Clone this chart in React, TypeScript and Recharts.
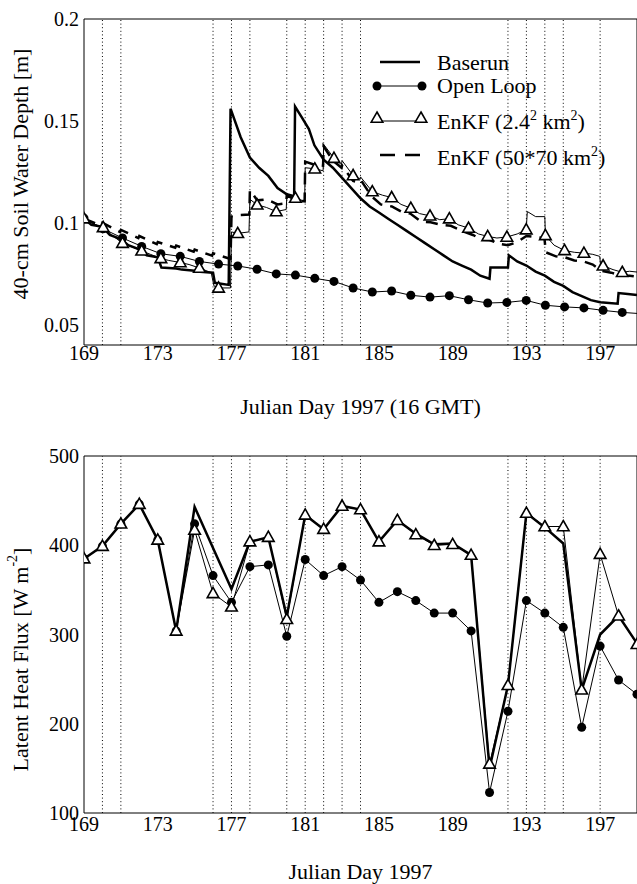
import React from "react";
import { LineChart, Line, XAxis, YAxis, ReferenceLine } from "recharts";

// days with observations (dotted verticals)
const obsDays = [170, 171, 176, 177, 178, 180, 181, 182, 183, 184, 192, 193, 194, 195, 197];
const dayTicks = [169, 173, 177, 181, 185, 189, 193, 197];

const swdMajor = [0.05, 0.1, 0.15, 0.2];
const swdMinor = [0.06, 0.07, 0.08, 0.09, 0.11, 0.12, 0.13, 0.14, 0.16, 0.17, 0.18, 0.19];
const lhMajor = [100, 200, 300, 400, 500];
const lhMinor = [120, 140, 160, 180, 220, 240, 260, 280, 320, 340, 360, 380, 420, 440, 460, 480];

// symbol positions on the soil-water curves
const markDays = [
  169.0, 170.04, 171.09, 172.13, 173.17, 174.22, 175.26, 176.3, 177.34, 178.39,
  179.43, 180.47, 181.52, 182.56, 183.6, 184.64, 185.69, 186.73, 187.77, 188.82,
  189.86, 190.9, 191.94, 192.99, 194.03, 195.07, 196.12, 197.16, 198.2,
];

// 40-cm soil water depth [m]
const swdOpenLoop = [
  0.1023, 0.097, 0.0925, 0.0884, 0.0848, 0.0835, 0.081, 0.0797, 0.0788, 0.0772,
  0.0749, 0.0743, 0.0727, 0.0712, 0.068, 0.066, 0.0665, 0.0644, 0.0635, 0.0642,
  0.0622, 0.0606, 0.0609, 0.0619, 0.0595, 0.0587, 0.0582, 0.057, 0.056,
];

const swdBaserun: [number, number][] = [
  [169.0, 0.102], [169.4, 0.099], [170.0, 0.098], [170.4, 0.094], [171.0, 0.092],
  [171.4, 0.089], [172.0, 0.087], [172.4, 0.084], [173.0, 0.083], [173.2, 0.078],
  [174.0, 0.0775], [174.3, 0.077], [175.0, 0.0765], [175.3, 0.076], [176.0, 0.0755],
  [176.1, 0.0705], [176.85, 0.0695], [176.95, 0.156], [177.5, 0.142], [178.0, 0.132],
  [178.5, 0.127], [179.0, 0.123], [179.5, 0.117], [180.0, 0.114], [180.4, 0.113],
  [180.45, 0.157], [180.8, 0.152], [181.2, 0.146], [181.5, 0.138], [182.0, 0.131],
  [182.5, 0.127], [183.0, 0.122], [183.5, 0.117], [184.0, 0.112], [184.5, 0.108],
  [185.0, 0.105], [185.5, 0.102], [186.0, 0.099], [186.5, 0.096], [187.0, 0.093],
  [187.5, 0.09], [188.0, 0.087], [188.5, 0.084], [189.0, 0.081], [189.5, 0.079],
  [190.0, 0.077], [190.5, 0.074], [191.0, 0.0725], [191.05, 0.078], [192.0, 0.078],
  [192.05, 0.084], [192.5, 0.081], [193.0, 0.079], [193.5, 0.076], [194.0, 0.074],
  [194.5, 0.071], [195.0, 0.069], [195.5, 0.066], [196.0, 0.064], [196.5, 0.062],
  [197.0, 0.061], [197.95, 0.0603], [198.0, 0.0655], [198.5, 0.065], [199.0, 0.0645],
];

const swdEnkfFine: [number, number][] = [
  [169.0, 0.102], [169.5, 0.0995], [170.04, 0.0977], [170.5, 0.094], [171.09, 0.09],
  [171.5, 0.0885], [172.13, 0.0862], [172.6, 0.0845], [173.17, 0.0825], [173.6, 0.0815],
  [174.22, 0.0805], [174.7, 0.0795], [175.26, 0.0778], [175.9, 0.0755], [176.05, 0.069],
  [176.3, 0.068], [176.95, 0.068], [177.0, 0.0955], [177.34, 0.0948], [177.95, 0.0955],
  [178.0, 0.1115], [178.39, 0.1088], [178.9, 0.1075], [179.43, 0.1055], [179.97, 0.1065],
  [180.0, 0.1125], [180.47, 0.1121], [180.97, 0.1105], [181.0, 0.127], [181.52, 0.1265],
  [181.97, 0.1255], [182.0, 0.1385], [182.56, 0.1317], [182.97, 0.1285], [183.0, 0.1305],
  [183.6, 0.1232], [183.97, 0.1215], [184.0, 0.1225], [184.64, 0.1153], [185.2, 0.1135],
  [185.69, 0.1124], [186.2, 0.109], [186.73, 0.1072], [187.2, 0.1045], [187.77, 0.1034],
  [188.3, 0.1015], [188.82, 0.102], [189.3, 0.099], [189.86, 0.0974], [190.4, 0.0945],
  [190.9, 0.0933], [191.4, 0.0925], [191.94, 0.093], [192.5, 0.0945], [192.99, 0.0966],
  [193.05, 0.1055], [193.5, 0.103], [194.0, 0.103], [194.03, 0.0938], [194.5, 0.089],
  [195.07, 0.0864], [195.6, 0.0855], [196.12, 0.0851], [196.6, 0.0845], [196.98, 0.0835],
  [197.02, 0.0795], [197.16, 0.0789], [197.7, 0.077], [198.2, 0.0757], [198.6, 0.0762],
  [199.0, 0.0758],
];

const swdEnkfCoarse: [number, number][] = [
  [169.0, 0.102], [169.95, 0.0985], [170.0, 0.1], [170.95, 0.0955], [171.0, 0.0965],
  [171.95, 0.0925], [172.0, 0.0935], [172.95, 0.0895], [173.0, 0.0905], [173.95, 0.0878],
  [174.0, 0.0888], [174.95, 0.0858], [175.0, 0.0868], [175.95, 0.0838], [176.0, 0.085],
  [176.95, 0.0822], [177.0, 0.103], [177.5, 0.1038], [177.97, 0.104], [178.0, 0.116],
  [178.4, 0.111], [178.9, 0.1115], [179.5, 0.109], [179.97, 0.1095], [180.0, 0.1135],
  [180.5, 0.111], [180.97, 0.1105], [181.0, 0.13], [181.5, 0.1285], [181.97, 0.128],
  [182.0, 0.1375], [182.5, 0.1305], [182.97, 0.127], [183.0, 0.128], [183.6, 0.1205],
  [184.0, 0.1195], [184.05, 0.1205], [184.6, 0.113], [185.1, 0.109], [185.7, 0.108],
  [186.2, 0.1055], [186.7, 0.1045], [187.3, 0.1005], [187.8, 0.1002], [188.4, 0.099],
  [188.9, 0.0985], [189.6, 0.0957], [190.1, 0.094], [190.6, 0.0917], [191.0, 0.0915],
  [191.6, 0.0895], [192.0, 0.089], [192.5, 0.0905], [193.0, 0.0935], [193.5, 0.093],
  [193.98, 0.0925], [194.05, 0.0855], [194.6, 0.0835], [195.1, 0.083], [195.6, 0.0815],
  [196.1, 0.081], [196.6, 0.0795], [197.05, 0.0765], [197.6, 0.0755], [198.2, 0.074],
  [198.6, 0.074], [199.0, 0.0735],
];

// latent heat flux [W m-2], one value per day
const lhDays = [
  169, 170, 171, 172, 173, 174, 175, 176, 177, 178, 179, 180, 181, 182, 183, 184,
  185, 186, 187, 188, 189, 190, 191, 192, 193, 194, 195, 196, 197, 198, 199,
];
const lhBaserun = [
  385, 399, 424, 446, 406, 304, 443, 397, 351, 404, 409, 320, 434, 418, 444, 440,
  404, 428, 413, 401, 402, 389, 150, 243, 436, 420, 402, 238, 300, 321, 290,
];
const lhOpenLoop = [
  385, 399, 424, 446, 406, 304, 424, 366, 336, 376, 378, 298, 384, 366, 376, 361,
  336, 348, 338, 324, 324, 304, 123, 214, 338, 324, 308, 196, 287, 249, 233,
];
const lhEnkf = [
  385, 399, 424, 446, 406, 304, 417, 346, 331, 404, 409, 317, 434, 418, 444, 440,
  404, 428, 412, 400, 401, 389, 155, 243, 436, 421, 421, 238, 390, 321, 289,
];

const pairs = (rows: [number, number][]) => rows.map(([x, y]) => ({ x, y }));
const zip = (xs: number[], ys: number[]) => xs.map((x, i) => ({ x, y: ys[i] }));

const FONT = '"Liberation Serif", "Times New Roman", serif';
const tickFont = { fontSize: 20, fill: "#000", fontFamily: FONT };

const circleDot = (p: any) => (
  <circle key={`c${p.index}`} cx={p.cx} cy={p.cy} r={4.5} fill="#000" />
);
const triangle = (cx: number, cy: number, key: string) => (
  <path
    key={key}
    d={`M${cx},${cy - 6} L${cx + 5.8},${cy + 4.2} L${cx - 5.8},${cy + 4.2} Z`}
    fill="#fff"
    stroke="#000"
    strokeWidth={1.6}
  />
);
const triDot = (p: any) => triangle(p.cx, p.cy, `t${p.index}`);
const markSet = new Set(markDays);
const markedCircle = (p: any) =>
  markSet.has(p.payload.x) ? circleDot(p) : <g key={`c${p.index}`} />;
const markedTri = (p: any) =>
  markSet.has(p.payload.x) ? triDot(p) : <g key={`t${p.index}`} />;

const YTitle = (props: any) => {
  const { viewBox, shift, children } = props;
  const cx = 20;
  const cy = viewBox.y + viewBox.height / 2 + shift;
  return (
    <text
      x={cx}
      y={cy}
      transform={`rotate(-90 ${cx} ${cy})`}
      textAnchor="middle"
      dominantBaseline="central"
      fontSize={22}
      fill="#000"
      fontFamily={FONT}
    >
      {children}
    </text>
  );
};

const XTitle = (props: any) => {
  const { viewBox, text, drop } = props;
  return (
    <text
      x={viewBox.x + viewBox.width / 2}
      y={viewBox.y + drop}
      textAnchor="middle"
      fontSize={22}
      fill="#000"
      fontFamily={FONT}
    >
      {text}
    </text>
  );
};

// frame with inward ticks on all four sides
const frameAxes = (major: number[], minor: number[], domain: [number, number]) => [
  <XAxis key="xt" xAxisId="xt" type="number" domain={[169, 199]} orientation="top" mirror
    ticks={dayTicks} tick={false} tickSize={16} stroke="#000" allowDataOverflow />,
  <XAxis key="xb" xAxisId="xb" type="number" domain={[169, 199]} orientation="bottom" mirror
    ticks={dayTicks} tick={false} tickSize={16} axisLine={false} stroke="#000" allowDataOverflow />,
  <YAxis key="yl" yAxisId="yl" type="number" domain={domain} orientation="left" mirror
    ticks={major} tick={false} tickSize={16} axisLine={false} stroke="#000" allowDataOverflow />,
  <YAxis key="ylm" yAxisId="ylm" type="number" domain={domain} orientation="left" mirror
    ticks={minor} tick={false} tickSize={9} axisLine={false} stroke="#000" allowDataOverflow />,
  <YAxis key="yr" yAxisId="yr" type="number" domain={domain} orientation="right" mirror
    ticks={major} tick={false} tickSize={16} stroke="#000" allowDataOverflow />,
  <YAxis key="yrm" yAxisId="yrm" type="number" domain={domain} orientation="right" mirror
    ticks={minor} tick={false} tickSize={9} axisLine={false} stroke="#000" allowDataOverflow />,
];

const obsLines = obsDays.map((d) => (
  <ReferenceLine key={`o${d}`} x={d} stroke="#000" strokeWidth={1} strokeDasharray="1 2.6" />
));

const Legend = () => (
  <svg
    width={637}
    height={420}
    style={{ position: "absolute", left: 0, top: 0, pointerEvents: "none" }}
    fontFamily={FONT}
    fontSize={22}
  >
    <line x1={380} y1={62} x2={420} y2={62} stroke="#000" strokeWidth={2.5} />
    <text x={437} y={70}>Baserun</text>

    <line x1={377} y1={86} x2={422} y2={86} stroke="#000" strokeWidth={1} />
    <circle cx={377} cy={86} r={4.5} fill="#000" />
    <circle cx={422} cy={86} r={4.5} fill="#000" />
    <text x={437} y={93}>Open Loop</text>

    <line x1={377} y1={121} x2={421} y2={121} stroke="#000" strokeWidth={1} />
    {triangle(377, 118, "l1")}
    {triangle(421, 118, "l2")}
    <text x={437} y={129}>
      EnKF (2.4<tspan dy={-9} fontSize={14}>2</tspan>
      <tspan dy={9}> km</tspan>
      <tspan dy={-9} fontSize={14}>2</tspan>
      <tspan dy={9}>)</tspan>
    </text>

    <line x1={380} y1={155} x2={420} y2={155} stroke="#000" strokeWidth={2.5} strokeDasharray="15 10" />
    <text x={437} y={165}>
      EnKF (50*70 km<tspan dy={-9} fontSize={14}>2</tspan>
      <tspan dy={9}>)</tspan>
    </text>
  </svg>
);

const SoilWaterChart = () => (
  <LineChart width={637} height={420} margin={{ top: 19, right: 0, bottom: 0, left: 0 }}>
    <XAxis dataKey="x" type="number" domain={[169, 199]} ticks={dayTicks} interval={0}
      tick={tickFont} tickLine={false} tickSize={0} tickMargin={1} height={75}
      stroke="#000" allowDataOverflow
      label={<XTitle text="Julian Day 1997 (16 GMT)" drop={69} />} />
    <YAxis type="number" domain={[0.04, 0.2]} ticks={swdMajor} interval={0}
      tick={tickFont} tickLine={false} tickSize={0} tickMargin={5} width={84}
      stroke="#000" allowDataOverflow
      label={<YTitle shift={-8}>40-cm Soil Water Depth [m]</YTitle>} />
    {frameAxes(swdMajor, swdMinor, [0.04, 0.2])}
    {obsLines}
    <Line data={zip(markDays, swdOpenLoop).concat([{ x: 199, y: 0.0555 }])} dataKey="y"
      stroke="#000" strokeWidth={1} dot={markedCircle} activeDot={false} isAnimationActive={false} />
    <Line data={pairs(swdEnkfCoarse)} dataKey="y" stroke="#000" strokeWidth={2.5}
      strokeDasharray="12 8" dot={false} activeDot={false} isAnimationActive={false} />
    <Line data={pairs(swdBaserun)} dataKey="y" stroke="#000" strokeWidth={2.5}
      dot={false} activeDot={false} isAnimationActive={false} />
    <Line data={pairs(swdEnkfFine)} dataKey="y" stroke="#000" strokeWidth={1}
      dot={markedTri} activeDot={false} isAnimationActive={false} />
  </LineChart>
);

const HeatFluxChart = () => (
  <LineChart width={637} height={444} margin={{ top: 16, right: 0, bottom: 0, left: 0 }}>
    <XAxis dataKey="x" type="number" domain={[169, 199]} ticks={dayTicks} interval={0}
      tick={tickFont} tickLine={false} tickSize={0} tickMargin={4} height={71}
      stroke="#000" allowDataOverflow
      label={<XTitle text="Julian Day 1997" drop={66} />} />
    <YAxis type="number" domain={[100, 500]} ticks={lhMajor} interval={0}
      tick={tickFont} tickLine={false} tickSize={0} tickMargin={5} width={84}
      stroke="#000" allowDataOverflow
      label={
        <YTitle shift={25}>
          Latent Heat Flux [W m<tspan dy={-8} fontSize={14}>-2</tspan>
          <tspan dy={8}>]</tspan>
        </YTitle>
      } />
    {frameAxes(lhMajor, lhMinor, [100, 500])}
    {obsLines}
    <Line data={zip(lhDays, lhOpenLoop)} dataKey="y" stroke="#000" strokeWidth={1}
      dot={circleDot} activeDot={false} isAnimationActive={false} />
    <Line data={zip(lhDays, lhBaserun)} dataKey="y" stroke="#000" strokeWidth={2.5}
      dot={false} activeDot={false} isAnimationActive={false} />
    <Line data={zip(lhDays, lhEnkf)} dataKey="y" stroke="#000" strokeWidth={1}
      dot={triDot} activeDot={false} isAnimationActive={false} />
  </LineChart>
);

export default function App() {
  return (
    <div
      style={{
        position: "absolute",
        left: 0,
        top: 0,
        width: 637,
        height: 884,
        background: "#fff",
        fontFamily: FONT,
        overflow: "hidden",
      }}
    >
      <div style={{ position: "absolute", left: 0, top: 0 }}>
        <SoilWaterChart />
        <Legend />
      </div>
      <div style={{ position: "absolute", left: 0, top: 440 }}>
        <HeatFluxChart />
      </div>
    </div>
  );
}
